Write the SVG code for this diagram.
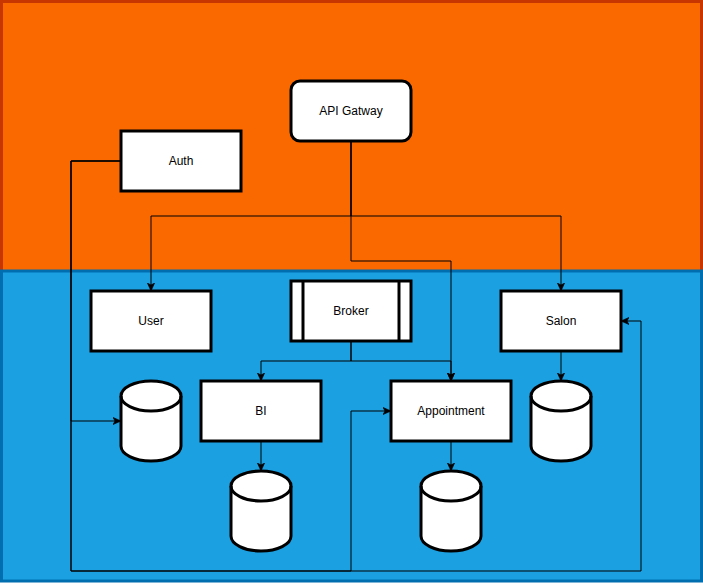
<svg xmlns="http://www.w3.org/2000/svg" width="703" height="583" viewBox="0 0 703 583">
<defs>
<marker id="arr" viewBox="0 0 10 10" refX="10" refY="5" markerWidth="8" markerHeight="8" markerUnits="userSpaceOnUse" orient="auto">
<path d="M0,0.5 L10,5 L0,9.5 L2.5,5 Z" fill="#000" stroke="#000" stroke-width="0.8"/>
</marker>
<style>
.box{fill:#fff;stroke:#000;stroke-width:3}
.lbl{font-family:"Liberation Sans",Arial,sans-serif;font-size:12px;fill:#000;text-anchor:middle;dominant-baseline:central}
.edge{fill:none;stroke:#000;stroke-width:1;marker-end:url(#arr)}
.line{fill:none;stroke:#000;stroke-width:1}
</style>
</defs>
<g id="zones">
<rect x="1.5" y="1.5" width="700" height="270" fill="#fa6800" stroke="#C73500" stroke-width="3"/>
<rect x="1.5" y="271" width="700" height="310" fill="#1ba1e2" stroke="#006EAF" stroke-width="3"/>
</g>
<g id="connectors">
<path class="edge" d="M351,141 V216 H151 V291"/>
<path class="edge" d="M351,141 V216 H561 V291"/>
<path class="edge" d="M351,141 V261 H451 V381"/>
<path class="edge" d="M121,161 H71 V421 H121"/>
<path class="edge" d="M121,161 H71 V571 H351 V411 H391"/>
<path class="edge" d="M121,161 H71 V571 H641 V321 H621"/>
<path class="edge" d="M351,341 V361 H261 V381"/>
<path class="edge" d="M351,341 V361 H451 V381"/>
<path class="edge" d="M261,441 V471"/>
<path class="edge" d="M451,441 V471"/>
<path class="edge" d="M561,351 V381"/>
</g>
<g id="api-gatway">
<rect class="box" x="291" y="81" width="120" height="60" rx="9" ry="9"/>
<text class="lbl" x="351" y="111">API Gatway</text>
</g>
<g id="auth">
<rect class="box" x="121" y="131" width="120" height="60"/>
<text class="lbl" x="181" y="161">Auth</text>
</g>
<g id="user">
<rect class="box" x="91" y="291" width="120" height="60"/>
<text class="lbl" x="151" y="321">User</text>
</g>
<g id="broker">
<rect class="box" x="291" y="281" width="120" height="60"/>
<line class="line" x1="303" y1="281" x2="303" y2="341" stroke-width="3" style="stroke-width:3"/>
<line class="line" x1="399" y1="281" x2="399" y2="341" style="stroke-width:3"/>
<text class="lbl" x="351" y="311">Broker</text>
</g>
<g id="salon">
<rect class="box" x="501" y="291" width="120" height="60"/>
<text class="lbl" x="561" y="321">Salon</text>
</g>
<g id="bi">
<rect class="box" x="201" y="381" width="120" height="60"/>
<text class="lbl" x="261" y="411">BI</text>
</g>
<g id="appointment">
<rect class="box" x="391" y="381" width="120" height="60"/>
<text class="lbl" x="451" y="411">Appointment</text>
</g>
<g id="user-db">
<path class="box" d="M121,396 A30,15 0 0 1 181,396 V446 A30,15 0 0 1 121,446 Z"/>
<path class="box" style="fill:none" d="M121,396 A30,15 0 0 0 181,396"/>
</g>
<g id="salon-db">
<path class="box" d="M531,396 A30,15 0 0 1 591,396 V446 A30,15 0 0 1 531,446 Z"/>
<path class="box" style="fill:none" d="M531,396 A30,15 0 0 0 591,396"/>
</g>
<g id="bi-db">
<path class="box" d="M231,486 A30,15 0 0 1 291,486 V536 A30,15 0 0 1 231,536 Z"/>
<path class="box" style="fill:none" d="M231,486 A30,15 0 0 0 291,486"/>
</g>
<g id="appointment-db">
<path class="box" d="M421,486 A30,15 0 0 1 481,486 V536 A30,15 0 0 1 421,536 Z"/>
<path class="box" style="fill:none" d="M421,486 A30,15 0 0 0 481,486"/>
</g>
</svg>
